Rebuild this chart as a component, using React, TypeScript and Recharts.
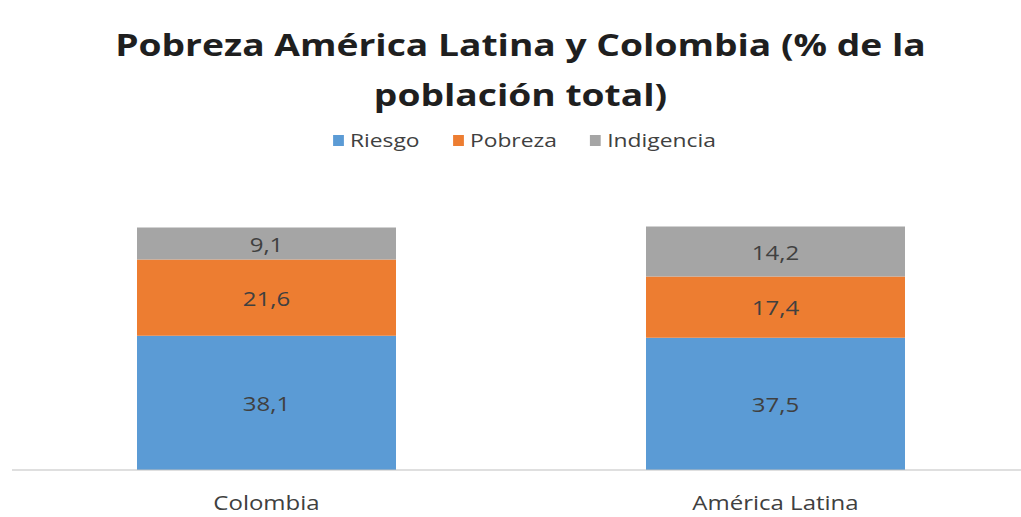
import { Bar, BarChart, LabelList, XAxis, YAxis } from "recharts";

// Pobreza América Latina y Colombia (% de la población total)
// the source image is stretched horizontally, so text gets a scaleX

const categories = ["Colombia", "América Latina"];
const riesgo = [38.1, 37.5];
const pobreza = [21.6, 17.4];
const indigencia = [9.1, 14.2];

const SERIES = [
  { key: "riesgo", name: "Riesgo", color: "#5B9BD5" },
  { key: "pobreza", name: "Pobreza", color: "#ED7D31" },
  { key: "indigencia", name: "Indigencia", color: "#A5A5A5" },
];

const FONT = "'Open Sans', sans-serif";
const STRETCH = 1.2;

const data = categories.map((name, i) => ({
  name,
  riesgo: riesgo[i],
  pobreza: pobreza[i],
  indigencia: indigencia[i],
}));

const comma = (v: any) => String(v).replace(".", ",");

function SegmentLabel(props: any) {
  const { x, y, width, height, value } = props;
  const cx = Number(x) + Number(width) / 2;
  const cy = Number(y) + Number(height) / 2;
  return (
    <text
      transform={`translate(${cx},${cy}) scale(${STRETCH},1)`}
      textAnchor="middle"
      dominantBaseline="central"
      fontSize={20}
      fontFamily={FONT}
      fill="#404040"
    >
      {comma(value)}
    </text>
  );
}

function CategoryTick(props: any) {
  const { x, y, payload } = props;
  return (
    <text
      transform={`translate(${x},${y}) scale(${STRETCH},1)`}
      textAnchor="middle"
      dy="0.71em"
      fontSize={20}
      fontFamily={FONT}
      fill="#404040"
    >
      {payload.value}
    </text>
  );
}

export default function App() {
  return (
    <div
      style={{
        position: "absolute",
        top: 0,
        left: 0,
        width: 1021,
        height: 517,
        overflow: "hidden",
        background: "#fff",
        fontFamily: FONT,
      }}
    >
      <div
        style={{
          position: "absolute",
          top: 19,
          left: 10,
          width: 1021,
          textAlign: "center",
          fontSize: 31,
          fontWeight: 700,
          lineHeight: "50px",
          color: "#1f1f1f",
          transform: `scaleX(${STRETCH})`,
          transformOrigin: "center",
        }}
      >
        Pobreza América Latina y Colombia (% de la
        <br />
        población total)
      </div>
      {/* legend */}
      <div
        style={{
          position: "absolute",
          top: 127,
          left: 14,
          width: 1021,
          display: "flex",
          justifyContent: "center",
          gap: 28,
          fontSize: 19,
          color: "#404040",
          lineHeight: "26px",
          transform: `scaleX(${STRETCH})`,
          transformOrigin: "center",
        }}
      >
        {SERIES.map((s) => (
          <div key={s.key} style={{ display: "flex", alignItems: "center" }}>
            <span style={{ width: 9, height: 11, background: s.color, marginRight: 5 }} />
            {s.name}
          </div>
        ))}
      </div>
      <div style={{ position: "absolute", top: 0, left: 0 }}>
        <BarChart
          width={1030}
          height={517}
          data={data}
          margin={{ top: 188, right: 0, left: 12, bottom: 0 }}
          barSize={259}
        >
          <XAxis
            dataKey="name"
            height={47}
            tickLine={false}
            axisLine={{ stroke: "#BFBFBF" }}
            tick={<CategoryTick />}
            tickMargin={20}
          />
          <YAxis hide domain={[0, 80]} />
          {SERIES.map((s) => (
            <Bar key={s.key} dataKey={s.key} name={s.name} stackId="a" fill={s.color} isAnimationActive={false}>
              <LabelList dataKey={s.key} content={<SegmentLabel />} />
            </Bar>
          ))}
        </BarChart>
      </div>
    </div>
  );
}
